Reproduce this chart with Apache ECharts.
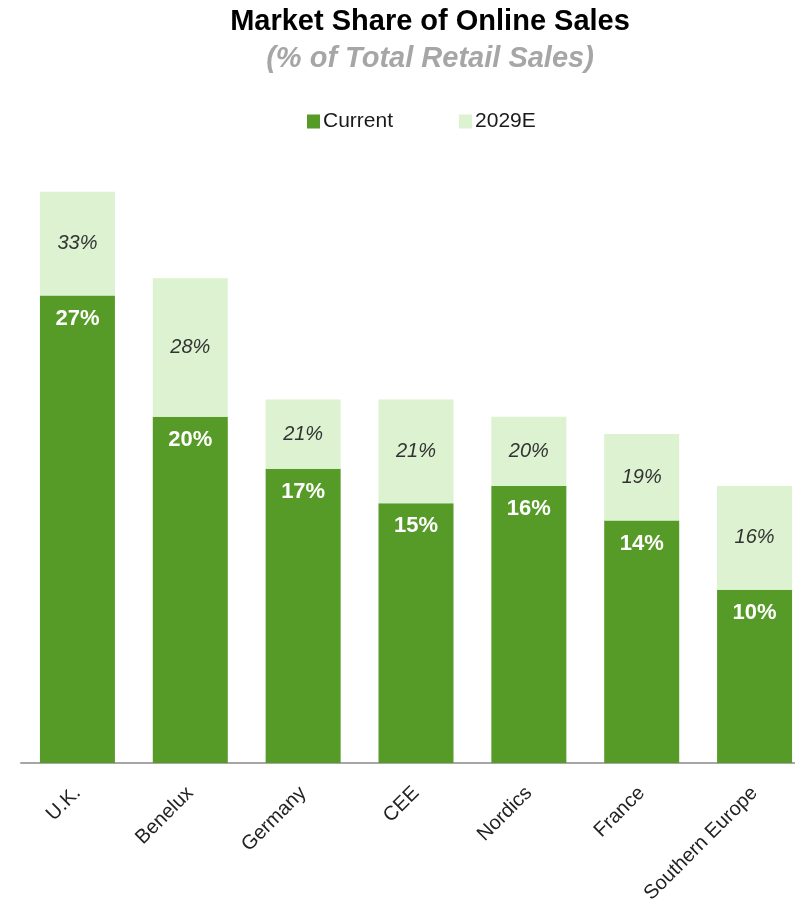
<!DOCTYPE html>
<html><head><meta charset="utf-8">
<script src="https://cdn.jsdelivr.net/npm/echarts@6/dist/echarts.min.js"></script>
<style>html,body{margin:0;padding:0;background:#fff}#c{width:795px;height:907px}</style>
</head><body><div id="c"></div>
<script>
const categories = ['U.K.', 'Benelux', 'Germany', 'CEE', 'Nordics', 'France', 'Southern Europe'];
const current = [27, 20, 17, 15, 16, 14, 10];
const estimate2029 = [33, 28, 21, 21, 20, 19, 16];

const increment = estimate2029.map((v, i) => v - current[i]);
const font = 'Liberation Sans, Arial, sans-serif';

const chart = echarts.init(document.getElementById('c'));
chart.setOption({
  animation: false,
  textStyle: { fontFamily: font },
  title: {
    text: 'Market Share of Online Sales',
    subtext: '(% of Total Retail Sales)',
    left: 425, textAlign: 'center', top: 2, itemGap: 8,
    textStyle: { fontFamily: font, fontSize: 29, fontWeight: 'bold', color: '#000' },
    subtextStyle: { fontFamily: font, fontSize: 29, fontWeight: 'bold', fontStyle: 'italic', color: '#a6a6a6' }
  },
  legend: {
    left: 307, top: 111, padding: 0, itemWidth: 13, itemHeight: 14, itemGap: 66,
    icon: 'rect',
    textStyle: { fontFamily: font, fontSize: 21, color: '#1a1a1a', padding: [0, 0, 0, -2] },
    data: ['Current', '2029E']
  },
  grid: { left: 21, width: 790, top: 157, height: 606, outerBoundsMode: 'none', containLabel: false },
  xAxis: {
    type: 'category', data: categories,
    axisLine: { lineStyle: { color: '#a6a6a6', width: 2 } },
    axisTick: { show: false },
    axisLabel: { rotate: 45, fontSize: 20, color: '#222', margin: 27, interval: 0, fontFamily: font }
  },
  yAxis: { type: 'value', min: 0, max: 35, show: false, splitLine: { show: false } },
  series: [
    {
      name: 'Current', type: 'bar', stack: 's', barWidth: 75,
      data: current,
      itemStyle: { color: '#569a27' },
      label: { show: true, position: 'insideTop', distance: 12, formatter: '{c}%', color: '#fff', fontSize: 22, fontWeight: 'bold', fontFamily: font }
    },
    {
      name: '2029E', type: 'bar', stack: 's', barWidth: 75,
      data: increment,
      itemStyle: { color: '#dcf2d0' },
      label: { show: true, position: 'inside', formatter: p => estimate2029[p.dataIndex] + '%', color: '#333', fontSize: 20, fontStyle: 'italic', fontFamily: font }
    }
  ]
});
</script></body></html>
